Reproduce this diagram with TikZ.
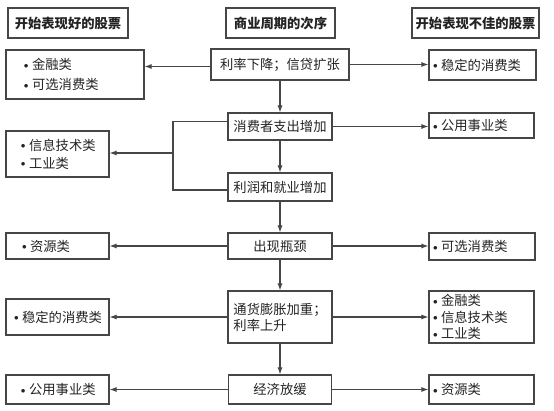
\documentclass[tikz,border=0pt]{standalone}
\usepackage{fontspec}
\newfontfamily\cjk{Noto Sans CJK SC}
\usetikzlibrary{arrows.meta}
\definecolor{linegray}{RGB}{70,70,70}
\definecolor{textdark}{RGB}{35,35,35}
\newcommand{\dotmark}{\raisebox{1.5pt}{\fontsize{9}{9}\selectfont$\bullet$}\hspace{3.5pt}}
\newcommand{\goodline}[2][9pt]{\hspace*{#1}\dotmark#2}
\newcommand{\badline}[1]{\hspace*{2pt}\dotmark#1}

\tikzset{
  header/.style={draw=linegray, line width=1.1pt, text=textdark,
    font=\cjk\bfseries\fontsize{13.3}{16}\selectfont, minimum height=30, inner sep=0},
  stage/.style={draw=linegray, line width=1.1pt, text=textdark,
    font=\cjk\fontsize{13.3}{16}\selectfont, align=left, inner sep=0},
  goodbox/.style={draw=linegray, line width=1.1pt, text=textdark,
    font=\cjk\fontsize{13.3}{16}\selectfont, align=left, inner xsep=6, inner ysep=0, text width=#1},
  badbox/.style={draw=linegray, line width=1.1pt, text=textdark,
    font=\cjk\fontsize{13.3}{16}\selectfont, align=left, inner xsep=2, inner ysep=0, text width=#1},
  link/.style={draw=linegray, line width=1.1pt},
  flow/.style={link, -{Latex[length=7pt,width=5pt]}},
}

\begin{document}
\begin{tikzpicture}[x=1pt, y=-1pt]
  \useasboundingbox (0,0) rectangle (554,411);

  % column headers
  \node[header, minimum width=120] (hgood) at (68,23) {开始表现好的股票};
  \node[header, minimum width=109] (hcycle) at (280.5,23) {商业周期的次序};
  \node[header, minimum width=127] (hbad) at (475.5,23) {开始表现不佳的股票};

  % stages of the cycle
  \node[stage, minimum width=138, minimum height=31] (c1) at (280,64.5) {利率下降；信贷扩张};
  \node[stage, minimum width=104, minimum height=27] (c2) at (280,126.5) {消费者支出增加};
  \node[stage, minimum width=104, minimum height=28] (c3) at (280,187) {利润和就业增加};
  \node[stage, minimum width=104, minimum height=26] (c4) at (280,246) {出现瓶颈};
  \node[stage, minimum width=104, minimum height=52] (c5) at (280,317) {通货膨胀加重；\\利率上升};
  \node[stage, minimum width=103, minimum height=29] (c6) at (280,389.5) {经济放缓};

  % stocks starting to do well
  \node[goodbox=126, minimum height=49] (l1) at (75,74.5) {\goodline[12pt]{金融类}\\[4pt]\goodline[12pt]{可选消费类}};
  \node[goodbox=91, minimum height=46] (l2) at (57.5,154) {\goodline{信息技术类}\\[2pt]\goodline{工业类}};
  \node[goodbox=91, minimum height=26] (l4) at (57.5,246) {\goodline[10pt]{资源类}};
  \node[goodbox=91, minimum height=36] (l5) at (57.5,317) {\goodline[2pt]{稳定的消费类}};
  \node[goodbox=91, minimum height=29] (l6) at (57.5,389.5) {\goodline{公用事业类}};

  % stocks starting to do badly
  \node[badbox=103, minimum height=30] (r1) at (482.5,65) {\badline{稳定的消费类}};
  \node[badbox=101, minimum height=25] (r2) at (481.5,125.5) {\badline{公用事业类}};
  \node[badbox=102, minimum height=27] (r4) at (482,246.5) {\badline{可选消费类}};
  \node[badbox=101, minimum height=52] (r5) at (481.5,317) {\badline{金融类}\\[0.5pt]\badline{信息技术类}\\[0.5pt]\badline{工业类}};
  \node[badbox=101, minimum height=29] (r6) at (481.5,389.5) {\badline{资源类}};

  % down the cycle
  \draw[flow] (c1) -- (c2);
  \draw[flow] (c2) -- (c3);
  \draw[flow] (c3) -- (c4);
  \draw[flow] (c4) -- (c5);
  \draw[flow] (c5) -- (c6);

  % to the left
  \draw[flow] ([yshift=-2pt]c1.west) -- ([yshift=-2pt]c1.west -| l1.east);
  \coordinate (split) at (173,153);
  \draw[link] ([yshift=5pt]c2.west) -| (split) |- ([yshift=-3pt]c3.west);
  \draw[flow] (split) -- (split -| l2.east);
  \draw[flow] (c4.west) -- (c4.west -| l4.east);
  \draw[flow] (c5.west) -- (c5.west -| l5.east);
  \draw[flow] (c6.west) -- (c6.west -| l6.east);

  % to the right
  \draw[flow] (c1.east) -- (c1.east -| r1.west);
  \draw[flow] (c2.east) -- (c2.east -| r2.west);
  \draw[flow] (c4.east) -- (c4.east -| r4.west);
  \draw[flow] (c5.east) -- (c5.east -| r5.west);
  \draw[flow] (c6.east) -- (c6.east -| r6.west);
\end{tikzpicture}
\end{document}
